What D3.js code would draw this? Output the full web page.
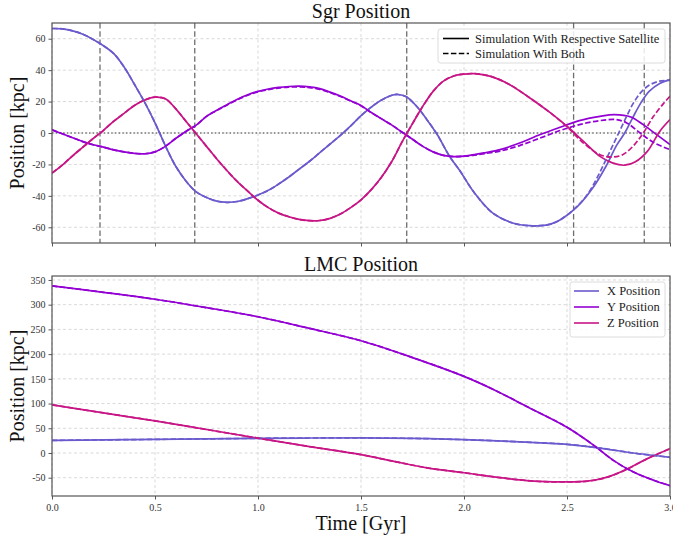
<!DOCTYPE html>
<html><head><meta charset="utf-8">
<script src="https://cdn.jsdelivr.net/npm/d3@7"></script>
<style>body{margin:0;background:#fff}text{font-family:"Liberation Serif","Times New Roman",serif}</style>
</head><body><svg id="c" width="673" height="535"></svg>
<script>
// ---------------- DATA ----------------
const xTicks = [0, 0.5, 1.0, 1.5, 2.0, 2.5, 3.0];
const sgrYTicks = [-60, -40, -20, 0, 20, 40, 60];
const lmcYTicks = [-50, 0, 50, 100, 150, 200, 250, 300, 350];
const planeCrossings = [0.233, 0.693, 1.722, 2.532, 2.875];

// Sgr, simulation with respective satellite (solid)
const sgrXResp = [[0,66.5],[0.05,66.3],[0.1,65],[0.15,62.8],[0.2,59.5],[0.25,55.5],[0.3,50.5],[0.35,42],[0.4,31],[0.45,19.5],[0.5,6.5],[0.55,-8],[0.6,-21],[0.65,-30.5],[0.7,-37.5],[0.75,-41],[0.8,-43.4],[0.85,-44.1],[0.9,-43.6],[0.95,-41.8],[1.0,-39.5],[1.05,-36.5],[1.1,-32.5],[1.15,-28],[1.2,-23],[1.25,-18],[1.3,-12.5],[1.35,-7],[1.4,-1.5],[1.45,4.5],[1.5,11],[1.55,16.5],[1.6,21],[1.65,24],[1.68,24.5],[1.72,23],[1.77,17],[1.82,8.5],[1.87,-1],[1.93,-14.9],[1.98,-24],[2.05,-38],[2.14,-51],[2.24,-57.4],[2.32,-59],[2.37,-59],[2.42,-58],[2.47,-55],[2.55,-46.8],[2.63,-34],[2.69,-21],[2.74,-8],[2.78,0],[2.82,10],[2.86,19.5],[2.9,26.6],[2.95,31.5],[3.0,34]];
const sgrYResp = [[0,2],[0.05,-0.5],[0.1,-3],[0.15,-5.5],[0.2,-7.5],[0.25,-9],[0.3,-10.7],[0.35,-12],[0.4,-13],[0.45,-13.2],[0.5,-12],[0.55,-8.5],[0.6,-3.5],[0.65,1],[0.7,5],[0.75,10.6],[0.8,14.5],[0.85,18],[0.9,21.5],[0.95,24.3],[1.0,26.5],[1.05,28],[1.1,29],[1.15,29.6],[1.2,29.8],[1.25,29.3],[1.3,28.2],[1.35,26],[1.4,23.5],[1.45,20.5],[1.5,17.5],[1.55,13],[1.6,9],[1.65,5],[1.7,0.5],[1.75,-4],[1.8,-8.5],[1.85,-12],[1.9,-14.2],[1.95,-15],[2.0,-14.7],[2.05,-13.8],[2.1,-12.6],[2.175,-10.6],[2.27,-6.4],[2.37,-1],[2.47,3.8],[2.56,7.9],[2.66,10.6],[2.73,11.7],[2.81,10.2],[2.87,5.3],[2.935,-1],[3.0,-7.4]];
const sgrZResp = [[0,-25.5],[0.05,-20.5],[0.1,-14.5],[0.15,-9],[0.2,-3.5],[0.25,1.7],[0.3,7.5],[0.35,12.5],[0.4,17.5],[0.45,21],[0.5,22.8],[0.55,21.8],[0.6,15.5],[0.65,7.5],[0.7,-0.5],[0.75,-8.5],[0.8,-16.5],[0.85,-24],[0.9,-31],[0.95,-37],[1.0,-42.8],[1.05,-47.5],[1.1,-51],[1.15,-53.3],[1.2,-55],[1.25,-55.8],[1.3,-55.7],[1.35,-54.3],[1.4,-51.5],[1.45,-47.5],[1.5,-42.5],[1.55,-36],[1.6,-28],[1.65,-18],[1.7,-5.5],[1.75,6],[1.8,17],[1.85,26.5],[1.9,33],[1.95,36.3],[2.0,37.5],[2.05,37.8],[2.13,36],[2.22,30.9],[2.32,22.3],[2.42,12.8],[2.5,4.3],[2.58,-5.3],[2.66,-14.9],[2.72,-19],[2.78,-20.5],[2.83,-18.5],[2.89,-11.7],[2.95,1],[3.0,8.5]];

// Sgr, simulation with both satellites (dashed)
const sgrXBoth = [[0,66.5],[0.05,66.3],[0.1,65],[0.15,62.8],[0.2,59.5],[0.25,55.5],[0.3,50.5],[0.35,42],[0.4,31],[0.45,19.5],[0.5,6.5],[0.55,-8],[0.6,-21],[0.65,-30.5],[0.7,-37.5],[0.75,-41],[0.8,-43.4],[0.85,-44.1],[0.9,-43.6],[0.95,-41.8],[1.0,-39.5],[1.05,-36.5],[1.1,-32.5],[1.15,-28],[1.2,-23],[1.25,-18],[1.3,-12.5],[1.35,-7],[1.4,-1.5],[1.45,4.5],[1.5,11],[1.55,16.5],[1.6,21],[1.65,24],[1.68,24.5],[1.72,23],[1.77,17],[1.82,8.5],[1.87,-1],[1.93,-14.9],[1.98,-24],[2.05,-38],[2.14,-51],[2.24,-57.4],[2.32,-59],[2.37,-59],[2.42,-58],[2.47,-55],[2.55,-46.5],[2.6,-39],[2.65,-27.5],[2.7,-14],[2.74,-3],[2.78,8],[2.82,18.5],[2.86,26],[2.9,30.5],[2.95,33],[3.0,33.5]];
const sgrYBoth = [[0,2],[0.05,-0.5],[0.1,-3],[0.15,-5.5],[0.2,-7.5],[0.25,-9],[0.3,-10.7],[0.35,-12],[0.4,-13],[0.45,-13.2],[0.5,-12],[0.55,-8.5],[0.6,-3.5],[0.65,1],[0.7,5],[0.75,10.6],[0.8,14.3],[0.85,17.8],[0.9,21.2],[0.95,24],[1.0,26.2],[1.05,27.6],[1.1,28.6],[1.15,29.2],[1.2,29.3],[1.25,28.9],[1.3,27.8],[1.35,25.7],[1.4,23.2],[1.45,20.3],[1.5,17.3],[1.55,12.9],[1.6,9],[1.65,5],[1.7,0.5],[1.75,-4],[1.8,-8.5],[1.85,-12],[1.9,-14.2],[1.95,-15],[2.0,-14.8],[2.05,-14.1],[2.1,-13.1],[2.175,-11.5],[2.27,-8],[2.37,-3.2],[2.47,1.7],[2.56,5.3],[2.66,7.9],[2.74,8.5],[2.79,6.4],[2.855,0],[2.92,-6],[3.0,-10.6]];
const sgrZBoth = [[0,-25.5],[0.05,-20.5],[0.1,-14.5],[0.15,-9],[0.2,-3.5],[0.25,1.7],[0.3,7.5],[0.35,12.5],[0.4,17.5],[0.45,21],[0.5,22.8],[0.55,21.8],[0.6,15.5],[0.65,7.5],[0.7,-0.5],[0.75,-8.5],[0.8,-16.5],[0.85,-24],[0.9,-31],[0.95,-37],[1.0,-42.8],[1.05,-47.5],[1.1,-51],[1.15,-53.3],[1.2,-55],[1.25,-55.8],[1.3,-55.7],[1.35,-54.3],[1.4,-51.5],[1.45,-47.5],[1.5,-42.5],[1.55,-36],[1.6,-28],[1.65,-18],[1.7,-5.5],[1.75,6],[1.8,17],[1.85,26.5],[1.9,33],[1.95,36.3],[2.0,37.5],[2.05,37.8],[2.13,36],[2.22,30.9],[2.32,22.3],[2.42,12.8],[2.5,4],[2.58,-6.4],[2.66,-13.8],[2.72,-15.3],[2.77,-13.8],[2.82,-8.5],[2.87,0],[2.92,10.6],[2.97,19],[3.0,23.4]];

// LMC positions
const lmcX = [[0,25.5],[0.25,26.5],[0.5,27.5],[0.75,28.5],[1.0,29.7],[1.25,30.3],[1.5,30.5],[1.75,29.5],[2.0,27],[2.3,22],[2.5,17.5],[2.66,10],[2.82,0],[3.0,-8.7]];
const lmcY = [[0,338],[0.25,325],[0.5,311],[0.75,294],[1.0,275.5],[1.25,252],[1.5,227],[1.75,193],[2.0,155],[2.15,127],[2.3,95],[2.5,52],[2.63,15.5],[2.725,-15],[2.82,-38],[2.92,-55],[3.0,-66]];
const lmcZ = [[0,97.5],[0.25,81],[0.5,65],[0.75,47.5],[1.0,30],[1.25,13],[1.5,-3.4],[1.66,-17],[1.82,-30],[2.0,-40],[2.175,-50],[2.34,-57],[2.47,-58.5],[2.6,-57],[2.7,-48.4],[2.79,-33],[2.89,-11.4],[3.0,8.7]];

const seriesNames = ["X Position", "Y Position", "Z Position"];
const seriesColors = ["#6a5acd", "#9400d3", "#c71585"];
const simNames = ["Simulation With Respective Satellite", "Simulation With Both"];

// ---------------- DRAW ----------------
const svg = d3.select("#c");
const L = 52, R = 670;
const FONT = '"Liberation Serif","Times New Roman",serif';
const x = d3.scaleLinear().domain([0, 3]).range([L, R]);
const panels = [
  {top: 23, bottom: 243, dom: [-70, 70], ticks: sgrYTicks, title: "Sgr Position",
   solid: [sgrXResp, sgrYResp, sgrZResp], dashed: [sgrXBoth, sgrYBoth, sgrZBoth], xlabels: false},
  {top: 276, bottom: 496, dom: [-87, 358], ticks: lmcYTicks, title: "LMC Position",
   solid: [lmcX, lmcY, lmcZ], dashed: [lmcX, lmcY, lmcZ], xlabels: true}
];
const dashLine = "5.5,2.4";

panels.forEach((p, pi) => {
  const y = d3.scaleLinear().domain(p.dom).range([p.bottom, p.top]);
  const g = svg.append("g");
  const cid = "clip" + pi;
  svg.append("clipPath").attr("id", cid).append("rect")
    .attr("x", L).attr("y", p.top).attr("width", R - L).attr("height", p.bottom - p.top);

  // grid
  g.selectAll(".vg").data(xTicks).join("line")
    .attr("x1", d => x(d)).attr("x2", d => x(d)).attr("y1", p.top).attr("y2", p.bottom)
    .attr("stroke", "#cfcfcf").attr("stroke-width", 0.8).attr("stroke-dasharray", "3,2.5");
  g.selectAll(".hg").data(p.ticks).join("line")
    .attr("y1", d => y(d)).attr("y2", d => y(d)).attr("x1", L).attr("x2", R)
    .attr("stroke", "#cfcfcf").attr("stroke-width", 0.8).attr("stroke-dasharray", "3,2.5");

  const plot = g.append("g").attr("clip-path", `url(#${cid})`);
  if (pi === 0) {
    plot.append("line").attr("x1", L).attr("x2", R).attr("y1", y(0)).attr("y2", y(0))
      .attr("stroke", "#777").attr("stroke-width", 1.5).attr("stroke-dasharray", "1.5,2.2");
    plot.selectAll(".pc").data(planeCrossings).join("line")
      .attr("x1", d => x(d)).attr("x2", d => x(d)).attr("y1", p.top).attr("y2", p.bottom)
      .attr("stroke", "#6e6e6e").attr("stroke-width", 1.3).attr("stroke-dasharray", "5.5,2.8");
  }
  const line = d3.line().x(d => x(d[0])).y(d => y(d[1])).curve(d3.curveCatmullRom.alpha(0.5));
  p.solid.forEach((s, i) => {
    plot.append("path").attr("d", line(s)).attr("fill", "none")
      .attr("stroke", seriesColors[i]).attr("stroke-width", 1.7);
  });
  p.dashed.forEach((s, i) => {
    plot.append("path").attr("d", line(s)).attr("fill", "none")
      .attr("stroke", seriesColors[i]).attr("stroke-width", 1.7).attr("stroke-dasharray", dashLine);
  });

  // axes
  const ya = g.append("g").attr("transform", `translate(${L},0)`)
    .call(d3.axisLeft(y).tickValues(p.ticks).tickSize(3.5).tickPadding(3).tickFormat(d => String(d)));
  const xa = g.append("g").attr("transform", `translate(0,${p.bottom})`)
    .call(d3.axisBottom(x).tickValues(xTicks).tickSize(3.5).tickPadding(4)
      .tickFormat(d => p.xlabels ? d3.format(".1f")(d) : ""));
  [ya, xa].forEach(a => {
    a.attr("font-family", FONT);
    a.select(".domain").remove();
    a.selectAll("line").attr("stroke", "#444").attr("stroke-width", 0.9);
    a.selectAll("text").attr("fill", "#333").attr("font-family", FONT).style("font-size", "10px");
  });
  // spines
  g.append("rect").attr("x", L).attr("y", p.top).attr("width", R - L).attr("height", p.bottom - p.top)
    .attr("fill", "none").attr("stroke", "#555").attr("stroke-width", 1.2);

  // title
  svg.append("text").attr("x", (L + R) / 2).attr("y", p.top - 5).attr("text-anchor", "middle")
    .style("font-size", "20px").attr("fill", "#111").text(p.title);
  // y label
  svg.append("text").attr("transform", `translate(24,${(p.top + p.bottom) / 2}) rotate(-90)`)
    .attr("text-anchor", "middle").style("font-size", "20px").attr("fill", "#111").text("Position [kpc]");
});

// x label
svg.append("text").attr("x", (L + R) / 2).attr("y", 530).attr("text-anchor", "middle")
  .style("font-size", "20px").attr("fill", "#111").text("Time [Gyr]");

// top legend
{
  const lg = svg.append("g");
  lg.append("rect").attr("x", 438).attr("y", 29).attr("width", 227).attr("height", 34).attr("rx", 2.5)
    .attr("fill", "#fff").attr("fill-opacity", 0.85).attr("stroke", "#d8d8d8").attr("stroke-width", 0.9);
  simNames.forEach((n, i) => {
    const yy = 38.5 + i * 15;
    lg.append("line").attr("x1", 443).attr("x2", 469).attr("y1", yy).attr("y2", yy)
      .attr("stroke", "#000").attr("stroke-width", 1.6).attr("stroke-dasharray", i ? dashLine : null);
    lg.append("text").attr("x", 475).attr("y", yy + 4).style("font-size", "12.5px").attr("fill", "#222").text(n);
  });
}
// bottom legend
{
  const lg = svg.append("g");
  lg.append("rect").attr("x", 570).attr("y", 282).attr("width", 95).attr("height", 55).attr("rx", 2.5)
    .attr("fill", "#fff").attr("fill-opacity", 0.85).attr("stroke", "#d8d8d8").attr("stroke-width", 0.9);
  seriesNames.forEach((n, i) => {
    const yy = 291 + i * 16;
    lg.append("line").attr("x1", 574).attr("x2", 599).attr("y1", yy).attr("y2", yy)
      .attr("stroke", seriesColors[i]).attr("stroke-width", 1.6);
    lg.append("text").attr("x", 607).attr("y", yy + 4).style("font-size", "12.5px").attr("fill", "#222").text(n);
  });
}
</script>
</body></html>
